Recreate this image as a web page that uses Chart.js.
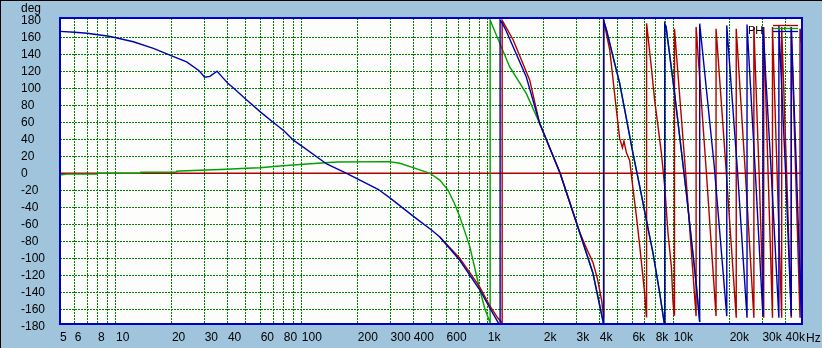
<!DOCTYPE html>
<html><head><meta charset="utf-8">
<script src="https://cdn.jsdelivr.net/npm/chart.js@4/dist/chart.umd.min.js"></script>
<style>html,body{margin:0;padding:0;background:#a0c4dc;overflow:hidden}</style>
</head><body>
<canvas id="c" width="822" height="348"></canvas>
<script>
// ---- axis ticks ----
const xGridTicks = [5,6,7,8,9,10,20,30,40,50,60,70,80,90,100,200,300,400,500,600,700,800,900,1000,2000,3000,4000,5000,6000,7000,8000,9000,10000,20000,30000,40000];
const xTickLabels = {5:'5',6:'6',8:'8',10:'10',20:'20',30:'30',40:'40',60:'60',80:'80',100:'100',200:'200',300:'300',400:'400',600:'600',1000:'1k',2000:'2k',3000:'3k',4000:'4k',6000:'6k',8000:'8k',10000:'10k',20000:'20k',30000:'30k',40000:'40k'};
const yTicks = [-180,-160,-140,-120,-100,-80,-60,-40,-20,0,20,40,60,80,100,120,140,160,180];

// ---- series (frequency Hz, phase deg) ----
const zeroFreq = [5, 49000];
const zeroPhase = [0, 0];

const blueFreq = [5,6,7,8,9,10,12.4,15.9,19.5,24,28,30,32,35,37,40,43,50,60,70,80,90,100,136,174,257,300,400,500,552,705,905,1020,1130,1165,
  1165,1200,1250,1610,1900,2450,3130,3680,4170,4200,
  4200,4350,4720,5120,5570,6040,6570,7130,7740,8410,8870,8950,
  8950,9100,10100,11700,13200,13800,
  13800,16500,19300,19300,22000,24800,24800,27500,30200,30200,33500,36800,36800,40000,42900,42900,45800,48600,48600,49000];
const bluePhase = [167,166,164.7,163,161.5,159.5,154.8,147,139,131,120.7,113,114,120,114,106,100,87,72,60,50,39,32,11,0,-18.8,-29.5,-51,-67,-75,-102,-137,-157.6,-174.6,-180,
  180,176,168.6,113.6,58.8,0,-70.6,-117.6,-174.6,-180,
  180,168.6,137,106,64,23.5,-15.8,-55,-94,-141,-174.6,-180,
  176,172.5,95,-23.5,-129,-175,
  176,10,-168,174,5,-170,175,0,-168,172,0,-170,174,0,-168,172,0,-170,170,160];

const redFreq = [552,705,906,1020,1130,1195,
  1195,1370,1680,1900,2450,3130,3390,3680,3900,4100,4200,
  4200,4530,4920,5120,5300,5400,5570,5800,6040,6300,6570,6980,7130,
  7150,7580,7900,8240,8590,8950,9320,9720,9900,10040,
  10100,11600,13200,13200,15000,16900,16900,19200,21700,21700,24300,27000,27000,28800,30500,30500,32200,34000,34000,36000,38100,38100,40500,42900,42900,45300,47800,47800,49000];
const redPhase = [-75,-99.6,-134,-155,-170,-176,
  180,156.8,109.8,58.8,0,-70,-88,-105,-125,-150,-170,
  180,145,74.5,41,30,38,24,15,-18,-50,-86,-141,-168.7,
  176.5,125,86,55,23.5,-15.8,-70.6,-110,-149,-166.7,
  170,0,-168,172,0,-168,170,0,-170,170,0,-170,172,0,-170,172,0,-170,172,0,-170,172,0,-170,172,0,-170,170,150];

const greenFreq = [5,5.43,7.9,8.0,13.5,13.6,21,21.2,22.1,30.7,39.4,50.4,59.5,76.2,89.8,106,154,297,336,397,488,552,612,660,707,800,906,964,1025,1030,
  1030,1310,1610,1900,1970,2450,3130,3680,4170,4200,
  4200,4350,4720,5120,5570,6040,6570,7130,7740,8410,8870,8950,
  8950,9100,10100,11700,13200,13800];
const greenPhase = [-2,-1,-0.8,0,0,1.2,1.2,2.4,2.7,3.9,4.7,5.9,6.6,8.6,9.8,10.9,13.3,13.7,11.8,6.6,0,-8,-20,-35,-51,-86,-137,-159,-175,-180,
  180,125.4,94,58.8,51,0,-70.6,-117.6,-174.6,-180,
  180,168.6,137,106,64,23.5,-15.8,-55,-94,-141,-174.6,-180,
  176,172.5,95,-23.5,-129,-175];

const toXY = (fs, ps) => fs.map((f, i) => ({x: f, y: ps[i]}));

const BG = '#a0c4dc';
const GRID = '#008000';
const FONT = '"Liberation Sans", Arial, sans-serif';

const framePlugin = {
  id: 'frame',
  beforeDraw(chart) {
    const {ctx, chartArea: a} = chart;
    ctx.save();
    ctx.fillStyle = BG;
    ctx.fillRect(0, 0, chart.width, chart.height);
    ctx.fillStyle = '#fdfefb';
    ctx.fillRect(a.left, a.top, a.right - a.left, a.bottom - a.top);
    ctx.restore();
  },
  afterDraw(chart) {
    const {ctx, chartArea: a} = chart;
    ctx.save();
    ctx.fillStyle = '#000';
    ctx.fillRect(0, 0, chart.width, 1);
    ctx.fillRect(0, 0, 1, chart.height);
    ctx.strokeStyle = '#0000c8';
    ctx.lineWidth = 2;
    ctx.strokeRect(a.left, a.top, a.right - a.left, a.bottom - a.top);
    ctx.fillStyle = '#000';
    ctx.font = '12px ' + FONT;
    ctx.textBaseline = 'alphabetic';
    ctx.textAlign = 'left';
    ctx.fillText('deg', 21, 12);
    ctx.fillText('Hz', 806, 342);
    ctx.font = '11px ' + FONT;
    ctx.fillText('PH', 748, 34);
    const lx0 = 773, lx1 = 798;
    const items = [['#b00000', 25.5], ['#00a000', 28.5], ['#0000b0', 31.5]];
    ctx.lineWidth = 1.3;
    for (const [c, y] of items) {
      ctx.strokeStyle = c;
      ctx.beginPath(); ctx.moveTo(lx0, y); ctx.lineTo(lx1, y); ctx.stroke();
    }
    ctx.fillStyle = '#00a000';
    ctx.fillRect(784, 27, 1.5, 3);
    ctx.restore();
  }
};

const ds = (label, fs, ps, color, order) => ({
  label, data: toXY(fs, ps), borderColor: color, backgroundColor: color,
  borderWidth: 1.4, pointRadius: 0, showLine: true, tension: 0, order, fill: false
});

new Chart(document.getElementById('c'), {
  type: 'scatter',
  data: {
    datasets: [
      ds('blue', blueFreq, bluePhase, '#0000b0', 1),
      ds('red', redFreq, redPhase, '#b00000', 2),
      ds('green', greenFreq, greenPhase, '#00a000', 3),
      ds('zero', zeroFreq, zeroPhase, '#b00000', 4)
    ]
  },
  options: {
    responsive: false,
    animation: false,
    devicePixelRatio: 1,
    layout: {padding: {left: 21, top: 18, right: 20, bottom: 0}},
    plugins: {legend: {display: false}, tooltip: {enabled: false}},
    scales: {
      x: {
        type: 'logarithmic', min: 5, max: 49000,
        afterBuildTicks: s => { s.ticks = xGridTicks.map(v => ({value: v})); },
        afterFit: s => { s.height = 24; },
        grid: {color: c => (c.tick && c.tick.value === 5) ? 'rgba(0,0,0,0)' : GRID, lineWidth: 1, drawTicks: false},
        border: {display: false, dash: [2, 1]},
        ticks: {
          autoSkip: false, maxRotation: 0, minRotation: 0, align: 'start', padding: 6,
          color: '#000', font: {family: FONT, size: 12},
          callback: v => xTickLabels[v] !== undefined ? xTickLabels[v] : ''
        }
      },
      y: {
        type: 'linear', min: -177.3, max: 182.7,
        afterBuildTicks: s => { s.ticks = yTicks.map(v => ({value: v})); },
        afterFit: s => { s.width = 39; },
        grid: {color: c => (c.tick && Math.abs(c.tick.value) === 180) ? 'rgba(0,0,0,0)' : GRID, lineWidth: 1, drawTicks: false},
        border: {display: false, dash: [2, 1]},
        ticks: {autoSkip: false, crossAlign: 'far', padding: 4, color: '#000', font: {family: FONT, size: 12}, callback: v => String(v)}
      }
    }
  },
  plugins: [framePlugin]
});
</script>
</body></html>
